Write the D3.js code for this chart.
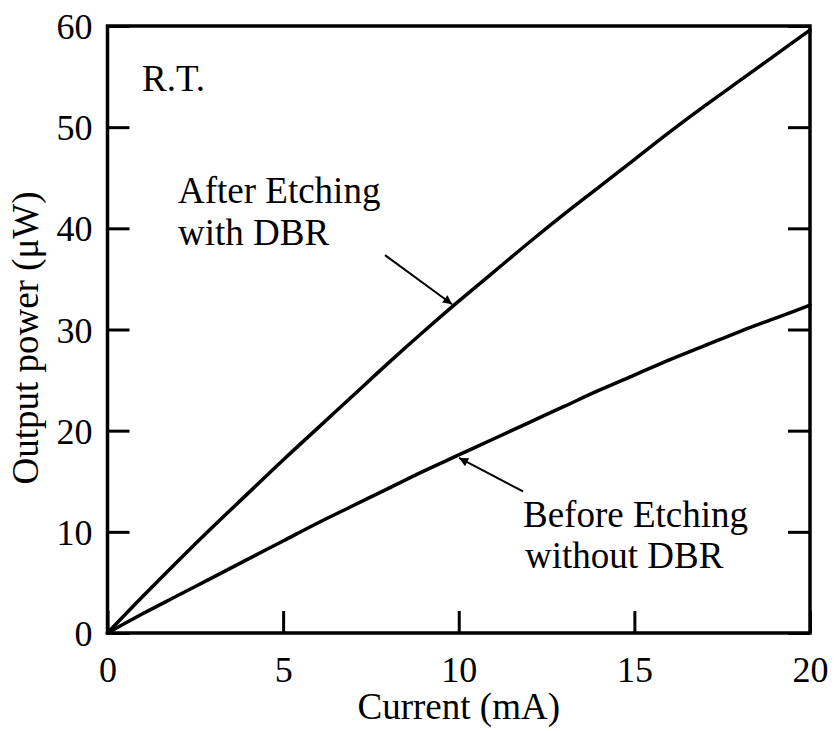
<!DOCTYPE html>
<html>
<head>
<meta charset="utf-8">
<script src="https://cdn.jsdelivr.net/npm/d3@7/dist/d3.min.js"></script>
<style>
  html, body { margin: 0; padding: 0; background: #fff; }
</style>
</head>
<body>
<svg id="chart" width="835" height="731"></svg>
<script>
// Current (mA)
const current = [0,1,2,3,4,5,6,7,8,9,10,11,12,13,14,15,16,17,18,19,20];
// Output power (µW) after etching, with DBR
const afterEtching = [0,3.6,7.1,10.5,13.8,17.1,20.3,23.5,26.7,29.8,32.8,35.7,38.6,41.4,44.1,46.8,49.5,52.1,54.6,57.1,59.6];
// Output power (µW) before etching, without DBR
const beforeEtching = [0,1.9,3.7,5.5,7.3,9.1,10.9,12.6,14.3,16.0,17.6,19.2,20.8,22.4,24.0,25.5,27.0,28.4,29.8,31.1,32.4];
const xTicks = [0,5,10,15,20];
const yTicks = [0,10,20,30,40,50,60];

const SERIF = '"Liberation Serif", "Times New Roman", serif';
const svg = d3.select("#chart").style("font-family", SERIF);
const m = {left: 107.5, right: 25, top: 26, bottom: 98};
const W = 835, H = 731;
const x = d3.scaleLinear().domain([0,20]).range([m.left, W - m.right]);
const y = d3.scaleLinear().domain([0,60]).range([H - m.bottom, m.top]);
const fsTick = 36, fs = 37;

// axes (inward ticks)
const tickLen = 22;
const gx = svg.append("g").attr("transform", `translate(0,${y(0)})`)
  .call(d3.axisBottom(x).tickValues(xTicks).tickSize(-tickLen).tickPadding(23));
const gl = svg.append("g").attr("transform", `translate(${x(0)},0)`)
  .call(d3.axisLeft(y).tickValues(yTicks).tickSize(-tickLen).tickPadding(15));
const gr = svg.append("g").attr("transform", `translate(${x(20)},0)`)
  .call(d3.axisRight(y).tickValues(yTicks).tickSize(-tickLen).tickFormat(""));
[gx, gl, gr].forEach(g => {
  g.attr("font-family", SERIF).attr("font-size", fsTick);
  g.select(".domain").remove();
  g.selectAll(".tick line").attr("stroke", "#000").attr("stroke-width", 3);
  g.selectAll(".tick text").style("font-family", SERIF).style("font-size", fsTick + "px").attr("fill", "#000");
});
gl.selectAll(".tick text").attr("dy", "0.35em");

// frame
svg.append("rect").attr("x", x(0)).attr("y", y(60)).attr("width", x(20) - x(0)).attr("height", y(0) - y(60))
  .attr("fill", "none").attr("stroke", "#000").attr("stroke-width", 3.5);

// curves
const line = d3.line().x((d,i) => x(current[i])).y(d => y(d)).curve(d3.curveMonotoneX);
[afterEtching, beforeEtching].forEach(s => {
  svg.append("path").datum(s).attr("d", line).attr("fill", "none").attr("stroke", "#000")
    .attr("stroke-width", 3.5).attr("stroke-linejoin", "round").attr("stroke-linecap", "round");
});

function txt(xp, yp, s, anchor) {
  return svg.append("text").attr("x", xp).attr("y", yp).attr("text-anchor", anchor || "start")
    .style("font-family", SERIF).style("font-size", fs + "px").attr("fill", "#000").text(s);
}

// axis titles
txt((x(0) + x(20)) / 2, 719, "Current (mA)", "middle");
svg.append("text").attr("transform", `translate(38,338) rotate(-90)`).attr("text-anchor", "middle")
  .style("font-family", SERIF).style("font-size", fs + "px").attr("fill", "#000").text("Output power (\u03BCW)");

// annotations
txt(142, 91, "R.T.");
txt(178, 203, "After Etching");
txt(178, 245, "with DBR");
txt(523, 527, "Before Etching");
txt(525, 568, "without DBR");

// arrows
const defs = svg.append("defs");
defs.append("marker").attr("id", "ah").attr("viewBox", "0 0 10 10").attr("refX", 10).attr("refY", 5)
  .attr("markerWidth", 17).attr("markerHeight", 9).attr("markerUnits", "userSpaceOnUse")
  .attr("orient", "auto")
  .append("path").attr("d", "M0,0 L10,5 L0,10 Z").attr("fill", "#000");
const arrows = [
  {x1: 7.9, y1: 37.35, x2: 9.81, y2: 32.5},
  {x1: 11.83, y1: 14.0, x2: 10.01, y2: 17.3}
];
arrows.forEach(a => {
  svg.append("line").attr("x1", x(a.x1)).attr("y1", y(a.y1)).attr("x2", x(a.x2)).attr("y2", y(a.y2))
    .attr("stroke", "#000").attr("stroke-width", 2).attr("marker-end", "url(#ah)");
});
</script>
</body>
</html>
